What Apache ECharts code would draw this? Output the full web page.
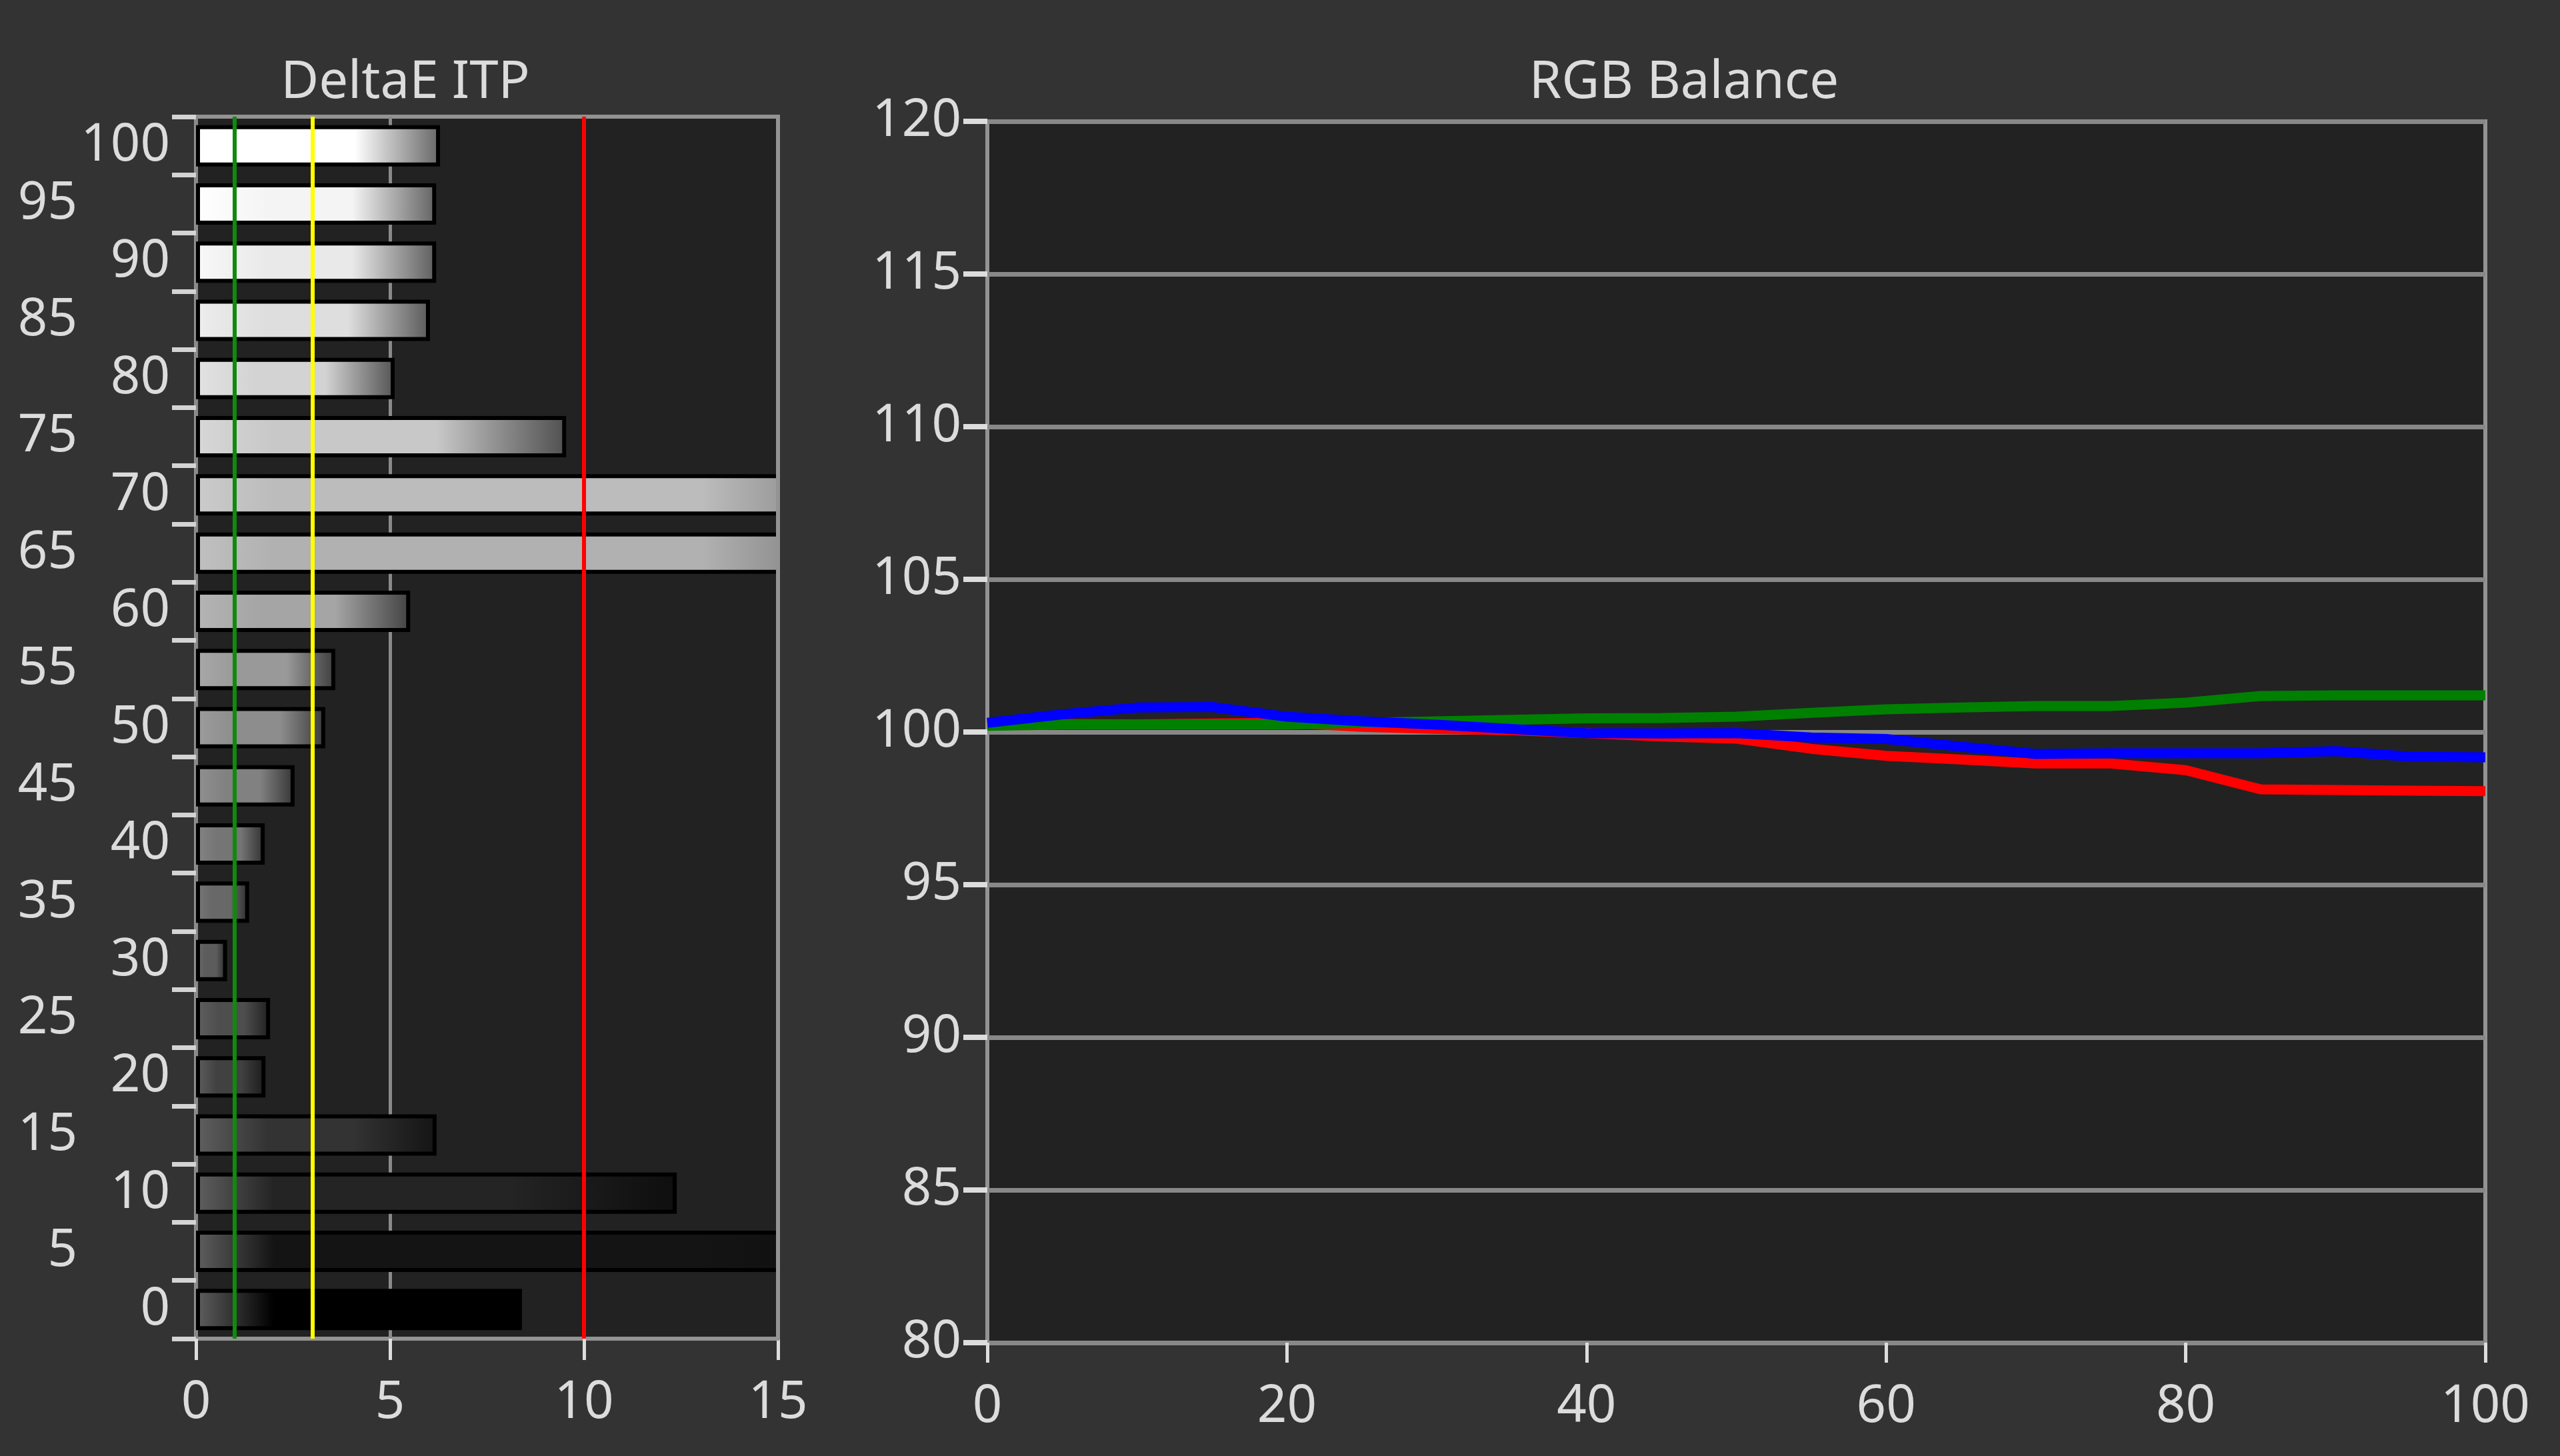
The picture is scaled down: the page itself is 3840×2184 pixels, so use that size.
<!DOCTYPE html>
<html><head><meta charset="utf-8">
<script src="https://cdn.jsdelivr.net/npm/echarts@6/dist/echarts.min.js"></script>
<style>html,body{margin:0;padding:0;background:#333333;}#c{width:3840px;height:2184px;}</style>
</head><body><div id="c"></div>
<script>
// ---- data ----
const levels = ['0','5','10','15','20','25','30','35','40','45','50','55','60','65','70','75','80','85','90','95','100'];
const deltaE = [8.40, 20, 12.39, 6.20, 1.79, 1.91, 0.80, 1.37, 1.77, 2.54, 3.33, 3.59, 5.52, 20, 20, 9.54, 5.12, 6.03, 6.19, 6.19, 6.29];
const thresholds = [1, 3, 10];
const stimulus = [0,5,10,15,20,25,30,35,40,45,50,55,60,65,70,75,80,85,90,95,100];
const redBal   = [100.22,100.26,100.25,100.28,100.30,100.17,100.10,100.06,99.96,99.85,99.78,99.45,99.22,99.10,98.97,98.97,98.75,98.12,98.10,98.08,98.06];
const greenBal = [100.20,100.24,100.24,100.24,100.24,100.30,100.35,100.40,100.45,100.46,100.50,100.63,100.74,100.80,100.85,100.85,100.96,101.18,101.20,101.20,101.20];
const blueBal  = [100.30,100.58,100.80,100.82,100.50,100.35,100.24,100.10,99.96,99.95,99.96,99.82,99.77,99.52,99.28,99.30,99.30,99.30,99.37,99.19,99.17];

// ---- styling helpers ----
const FONT = 'Noto Sans';
const TXT = '#dcdcdc';
const DE_MAX = 15;
const thrColors = ['#0f8a0f', '#ffff00', '#ff0000'];
function g(v){ v = Math.max(0, Math.min(255, Math.round(v))); return 'rgb(' + v + ',' + v + ',' + v + ')'; }
function barGradient(p, v){
  const m = 255 * Math.pow(p / 100, 0.85);
  const l = Math.max(Math.min(255, m + 15), 95);
  const f = Math.min(0.3, 2 / v);
  const full = [[0, l], [f, m], [0.65, m], [1, m * 0.4]];
  const s = v / Math.min(v, DE_MAX); // >1 when the bar is clipped at the axis max
  const at = t => { for (let k = 1; k < full.length; k++) { if (t <= full[k][0]) { const a = full[k-1], b = full[k]; const r = (t - a[0]) / ((b[0] - a[0]) || 1); return a[1] + (b[1] - a[1]) * r; } } return full[full.length-1][1]; };
  const stops = [];
  for (const [o, c] of full) { if (o * s <= 1) stops.push({offset: o * s, color: g(c)}); }
  if (stops[stops.length-1].offset < 1) stops.push({offset: 1, color: g(at(1 / s))});
  return new echarts.graphic.LinearGradient(0, 0, 1, 0, stops);
}

const chart = echarts.init(document.getElementById('c'), null, {renderer: 'canvas', width: 3840, height: 2184});
const titleStyle = {color: TXT, fontSize: 78, fontWeight: 'normal', fontFamily: FONT};
chart.setOption({
  backgroundColor: '#333333',
  animation: false,
  title: [
    {text: 'DeltaE ITP', left: 603, top: 81, textAlign: 'center', textStyle: titleStyle},
    {text: 'RGB Balance', left: 2521, top: 81, textAlign: 'center', textStyle: titleStyle}
  ],
  grid: [
    {left: 294, top: 175, width: 873, height: 1833, show: true, backgroundColor: '#222222', borderColor: '#939393', borderWidth: 6},
    {left: 1481, top: 182, width: 2247, height: 1832, show: true, backgroundColor: '#222222', borderColor: '#939393', borderWidth: 6}
  ],
  xAxis: [
    {gridIndex: 0, type: 'value', min: 0, max: DE_MAX, interval: 5,
     axisLine: {show: false},
     axisTick: {show: true, length: 32, lineStyle: {color: '#dddddd', width: 5}},
     axisLabel: {color: TXT, fontSize: 78, fontFamily: FONT, margin: 58},
     splitLine: {show: true, lineStyle: {color: '#8a8a8a', width: 5}}},
    {gridIndex: 1, type: 'value', min: 0, max: 100, interval: 20,
     axisLine: {show: false},
     axisTick: {show: true, length: 30, lineStyle: {color: '#dddddd', width: 5}},
     axisLabel: {color: TXT, fontSize: 78, fontFamily: FONT, margin: 58},
     splitLine: {show: false}}
  ],
  yAxis: [
    {gridIndex: 0, type: 'category', data: levels,
     axisLine: {show: false},
     axisTick: {show: true, length: 36, lineStyle: {color: '#d4d4d4', width: 7}},
     axisLabel: {interval: 0, margin: 39, color: TXT, fontSize: 78, fontFamily: FONT,
       formatter: function(v, i){ return (i % 2 === 1) ? '{o|' + v + '}' : '{e|' + v + '}'; },
       rich: {
         e: {color: TXT, fontSize: 78, fontFamily: FONT},
         o: {color: TXT, fontSize: 78, fontFamily: FONT, padding: [0, 139, 0, 0]}
       }},
     splitLine: {show: false}},
    {gridIndex: 1, type: 'value', min: 80, max: 120, interval: 5,
     axisLine: {show: false},
     axisTick: {show: true, length: 36, lineStyle: {color: '#dddddd', width: 8}},
     axisLabel: {margin: 39, color: TXT, fontSize: 78, fontFamily: FONT},
     splitLine: {show: true, lineStyle: {color: '#888888', width: 7}}},
    {gridIndex: 0, type: 'value', position: 'right', min: 0, max: 1, z: 10,
     axisLine: {show: true, lineStyle: {color: '#939393', width: 6}},
     axisTick: {show: false}, axisLabel: {show: false}, splitLine: {show: false}}
  ],
  series: [
    {type: 'bar', xAxisIndex: 0, yAxisIndex: 0, barWidth: 62,
     itemStyle: {borderColor: '#000000', borderWidth: 6},
     data: deltaE.map((v, i) => ({value: v, itemStyle: {color: barGradient(+levels[i], v)}})),
     markLine: {silent: true, symbol: ['none', 'none'], label: {show: false},
       data: thresholds.map((t, i) => ({xAxis: t, lineStyle: {color: thrColors[i], width: 6, type: 'solid'}}))}},
    {type: 'line', name: 'R', xAxisIndex: 1, yAxisIndex: 1, showSymbol: false,
     lineStyle: {color: '#ff0000', width: 15}, itemStyle: {color: '#ff0000'},
     data: stimulus.map((x, i) => [x, redBal[i]])},
    {type: 'line', name: 'G', xAxisIndex: 1, yAxisIndex: 1, showSymbol: false,
     lineStyle: {color: '#008000', width: 15}, itemStyle: {color: '#008000'},
     data: stimulus.map((x, i) => [x, greenBal[i]])},
    {type: 'line', name: 'B', xAxisIndex: 1, yAxisIndex: 1, showSymbol: false,
     lineStyle: {color: '#0000ff', width: 15}, itemStyle: {color: '#0000ff'},
     data: stimulus.map((x, i) => [x, blueBal[i]])}
  ]
});
</script>
</body></html>
